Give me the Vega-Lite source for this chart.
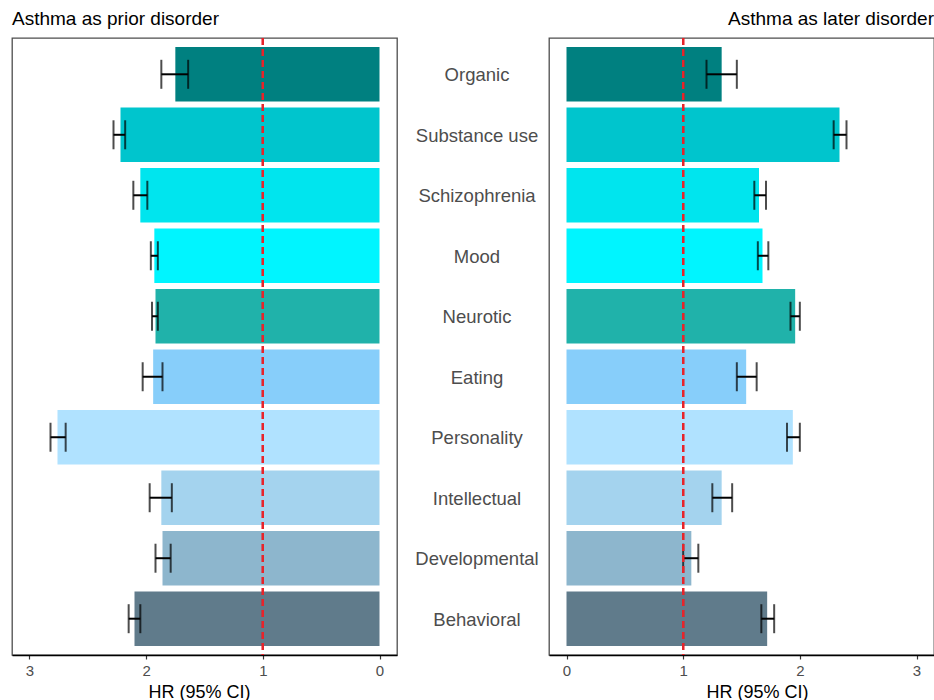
{
  "$schema": "https://vega.github.io/schema/vega-lite/v6.json",
  "background": "white",
  "padding": {"left": 11, "top": 9, "right": 0, "bottom": 0},
  "datasets": {
    "hr": [
      {"disorder": "Organic", "prior_hr": 1.75, "prior_lo": 1.64, "prior_hi": 1.87, "later_hr": 1.33, "later_lo": 1.20, "later_hi": 1.46},
      {"disorder": "Substance use", "prior_hr": 2.22, "prior_lo": 2.18, "prior_hi": 2.28, "later_hr": 2.34, "later_lo": 2.29, "later_hi": 2.40},
      {"disorder": "Schizophrenia", "prior_hr": 2.05, "prior_lo": 1.99, "prior_hi": 2.11, "later_hr": 1.65, "later_lo": 1.61, "later_hi": 1.71},
      {"disorder": "Mood", "prior_hr": 1.93, "prior_lo": 1.90, "prior_hi": 1.96, "later_hr": 1.68, "later_lo": 1.64, "later_hi": 1.73},
      {"disorder": "Neurotic", "prior_hr": 1.92, "prior_lo": 1.90, "prior_hi": 1.95, "later_hr": 1.96, "later_lo": 1.92, "later_hi": 2.00},
      {"disorder": "Eating", "prior_hr": 1.94, "prior_lo": 1.86, "prior_hi": 2.03, "later_hr": 1.54, "later_lo": 1.46, "later_hi": 1.63},
      {"disorder": "Personality", "prior_hr": 2.76, "prior_lo": 2.69, "prior_hi": 2.82, "later_hr": 1.94, "later_lo": 1.89, "later_hi": 2.00},
      {"disorder": "Intellectual", "prior_hr": 1.87, "prior_lo": 1.78, "prior_hi": 1.97, "later_hr": 1.33, "later_lo": 1.25, "later_hi": 1.42},
      {"disorder": "Developmental", "prior_hr": 1.86, "prior_lo": 1.79, "prior_hi": 1.92, "later_hr": 1.07, "later_lo": 1.00, "later_hi": 1.13},
      {"disorder": "Behavioral", "prior_hr": 2.10, "prior_lo": 2.05, "prior_hi": 2.15, "later_hr": 1.72, "later_lo": 1.67, "later_hi": 1.78}
    ]
  },
  "data": {"name": "hr"},
  "config": {
    "font": "Liberation Sans",
    "view": {"stroke": "#4d4d4d", "strokeWidth": 1.3},
    "title": {"fontSize": 19, "fontWeight": "normal", "color": "black", "frame": "group", "offset": 8},
    "axisX": {
      "grid": false,
      "domainColor": "black",
      "domainWidth": 1.6,
      "tickColor": "#333333",
      "tickSize": 4,
      "tickWidth": 1.2,
      "labelColor": "#4d4d4d",
      "labelFontSize": 15,
      "labelPadding": 4,
      "titleFontSize": 18,
      "titleFontWeight": "normal",
      "titleColor": "black",
      "titlePadding": 5
    }
  },
  "spacing": 0,
  "bounds": "flush",
  "hconcat": [
    {
      "width": 385,
      "height": 617,
      "title": {"text": "Asthma as prior disorder", "anchor": "start"},
      "layer": [
        {
          "mark": {"type": "bar"},
          "encoding": {
            "y": {
              "field": "disorder", "type": "nominal", "axis": null,
              "sort": ["Organic", "Substance use", "Schizophrenia", "Mood", "Neurotic", "Eating", "Personality", "Intellectual", "Developmental", "Behavioral"],
              "scale": {"type": "band", "paddingInner": 0.1, "paddingOuter": 0.15}
            },
            "x": {
              "field": "prior_hr", "type": "quantitative", "title": "HR (95% CI)",
              "scale": {"domain": [-0.15, 3.15], "reverse": true, "nice": false, "zero": false},
              "axis": {"values": [0, 1, 2, 3], "format": "d", "titleX": 187, "titleAlign": "center"}
            },
            "color": {
              "field": "disorder", "type": "nominal", "legend": null,
              "scale": {
                "domain": ["Organic", "Substance use", "Schizophrenia", "Mood", "Neurotic", "Eating", "Personality", "Intellectual", "Developmental", "Behavioral"],
                "range": ["#008080", "#00C5CD", "#00E5EE", "#00F5FF", "#20B2AA", "#87CEFA", "#B0E2FF", "#A4D3EE", "#8DB6CD", "#607B8B"]
              }
            }
          }
        },
        {
          "mark": {"type": "errorbar", "color": "black", "ticks": {"size": 29, "thickness": 2, "color": "black"}, "rule": {"strokeWidth": 2, "color": "black"}},
          "encoding": {
            "y": {
              "field": "disorder", "type": "nominal", "axis": null,
              "sort": ["Organic", "Substance use", "Schizophrenia", "Mood", "Neurotic", "Eating", "Personality", "Intellectual", "Developmental", "Behavioral"]
            },
            "x": {"field": "prior_lo", "type": "quantitative", "title": "HR (95% CI)"},
            "x2": {"field": "prior_hi"}
          }
        },
        {
          "mark": {"type": "rule", "color": "#E8242A", "strokeDash": [7, 4], "strokeWidth": 1.8},
          "encoding": {"x": {"datum": 1, "type": "quantitative"}}
        }
      ]
    },
    {
      "width": 152,
      "height": 617,
      "view": {"stroke": null},
      "mark": {"type": "text", "fontSize": 18.5, "color": "#4d4d4d", "dx": 4, "dy": 1, "baseline": "middle"},
      "encoding": {
        "y": {
          "field": "disorder", "type": "nominal", "axis": null,
          "sort": ["Organic", "Substance use", "Schizophrenia", "Mood", "Neurotic", "Eating", "Personality", "Intellectual", "Developmental", "Behavioral"],
          "scale": {"type": "band", "paddingInner": 0.1, "paddingOuter": 0.15}
        },
        "text": {"field": "disorder"}
      }
    },
    {
      "width": 385,
      "height": 617,
      "title": {"text": "Asthma as later disorder", "anchor": "end"},
      "layer": [
        {
          "mark": {"type": "bar"},
          "encoding": {
            "y": {
              "field": "disorder", "type": "nominal", "axis": null,
              "sort": ["Organic", "Substance use", "Schizophrenia", "Mood", "Neurotic", "Eating", "Personality", "Intellectual", "Developmental", "Behavioral"],
              "scale": {"type": "band", "paddingInner": 0.1, "paddingOuter": 0.15}
            },
            "x": {
              "field": "later_hr", "type": "quantitative", "title": "HR (95% CI)",
              "scale": {"domain": [-0.15, 3.15], "nice": false, "zero": false},
              "axis": {"values": [0, 1, 2, 3], "format": "d", "titleX": 208, "titleAlign": "center"}
            },
            "color": {
              "field": "disorder", "type": "nominal", "legend": null,
              "scale": {
                "domain": ["Organic", "Substance use", "Schizophrenia", "Mood", "Neurotic", "Eating", "Personality", "Intellectual", "Developmental", "Behavioral"],
                "range": ["#008080", "#00C5CD", "#00E5EE", "#00F5FF", "#20B2AA", "#87CEFA", "#B0E2FF", "#A4D3EE", "#8DB6CD", "#607B8B"]
              }
            }
          }
        },
        {
          "mark": {"type": "errorbar", "color": "black", "ticks": {"size": 29, "thickness": 2, "color": "black"}, "rule": {"strokeWidth": 2, "color": "black"}},
          "encoding": {
            "y": {
              "field": "disorder", "type": "nominal", "axis": null,
              "sort": ["Organic", "Substance use", "Schizophrenia", "Mood", "Neurotic", "Eating", "Personality", "Intellectual", "Developmental", "Behavioral"]
            },
            "x": {"field": "later_lo", "type": "quantitative", "title": "HR (95% CI)"},
            "x2": {"field": "later_hi"}
          }
        },
        {
          "mark": {"type": "rule", "color": "#E8242A", "strokeDash": [7, 4], "strokeWidth": 1.8},
          "encoding": {"x": {"datum": 1, "type": "quantitative"}}
        }
      ]
    }
  ]
}
